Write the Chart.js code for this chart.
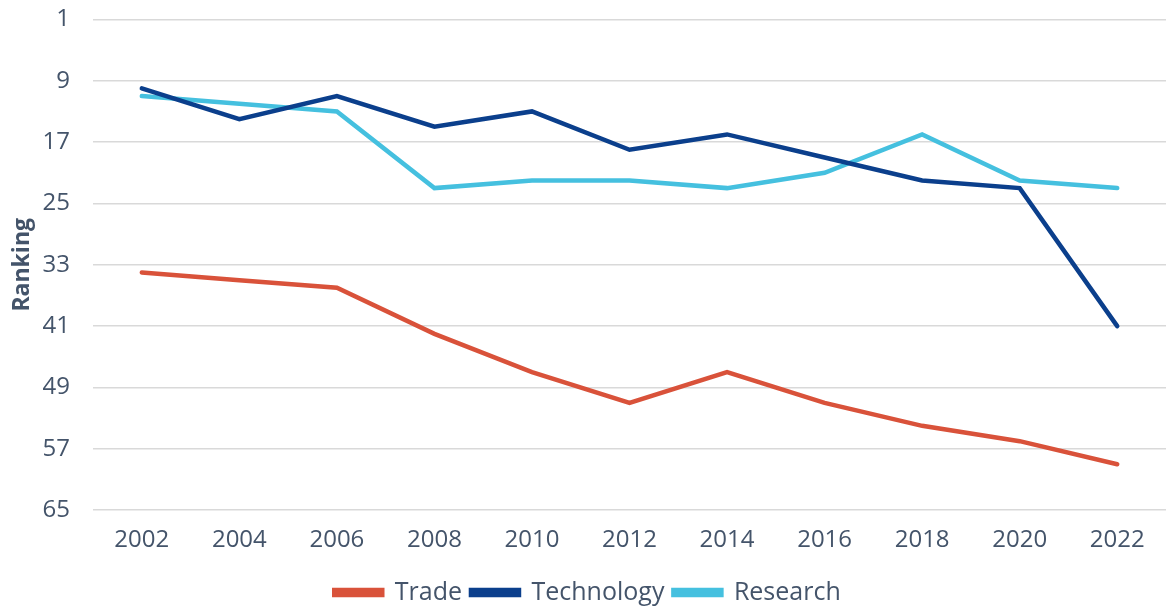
<!DOCTYPE html>
<html lang="en">
<head>
  <meta charset="UTF-8" />
  <title>Ranking</title>
  <script src="https://cdn.jsdelivr.net/npm/chart.js"></script>
  <style>
    html, body { margin: 0; padding: 0; background: #fff; }
    #wrap { width: 1166px; height: 606px; position: relative; }
  </style>
</head>
<body>
  <div id="wrap"><canvas id="grafica"></canvas></div>
  <script>
    const years = ['2002', '2004', '2006', '2008', '2010', '2012', '2014', '2016', '2018', '2020', '2022'];
    const trade = [34, 35, 36, 42, 47, 51, 47, 51, 54, 56, 59];
    const technology = [10, 14, 11, 15, 13, 18, 16, 19, 22, 23, 41];
    const research = [11, 12, 13, 23, 22, 22, 23, 21, 16, 22, 23];

    const textColor = '#44546a';
    const font = "'Open Sans', sans-serif";

    new Chart(document.getElementById('grafica'), {
      type: 'line',
      data: {
        labels: years,
        datasets: [
          { label: 'Trade', data: trade, borderColor: '#d9523a', backgroundColor: '#d9523a' },
          { label: 'Technology', data: technology, borderColor: '#0b3f8c', backgroundColor: '#0b3f8c' },
          { label: 'Research', data: research, borderColor: '#45c0df', backgroundColor: '#45c0df' }
        ]
      },
      options: {
        responsive: true,
        maintainAspectRatio: false,
        animation: false,
        layout: { padding: { top: 0, right: 0, left: 9, bottom: -9 } },
        elements: {
          line: { borderWidth: 4.5, tension: 0, borderCapStyle: 'round' },
          point: { radius: 0 }
        },
        plugins: {
          tooltip: { enabled: false },
          legend: {
            position: 'bottom',
            labels: {
              color: textColor,
              font: { family: font, size: 25 },
              boxWidth: 48,
              boxHeight: 5,
              padding: 9
            }
          }
        },
        scales: {
          x: {
            offset: true,
            grid: { display: false, drawTicks: false },
            border: { display: false },
            ticks: { color: textColor, font: { family: font, size: 24 }, autoSkip: false, maxRotation: 0, padding: 16 }
          },
          y: {
            reverse: true,
            min: 1,
            max: 65,
            // invisible tick marks give the label gap without padding the top
            grid: { color: '#d9d9d9', lineWidth: 1.5, drawTicks: true, tickLength: 18, tickColor: 'rgba(0,0,0,0)' },
            border: { display: false },
            ticks: { stepSize: 8, color: textColor, font: { family: font, size: 24 }, padding: 5 },
            title: {
              display: true,
              text: 'Ranking',
              color: textColor,
              font: { family: font, size: 23, weight: 'bold' },
              padding: { top: 0, bottom: 1 }
            }
          }
        }
      }
    });
  </script>
</body>
</html>
